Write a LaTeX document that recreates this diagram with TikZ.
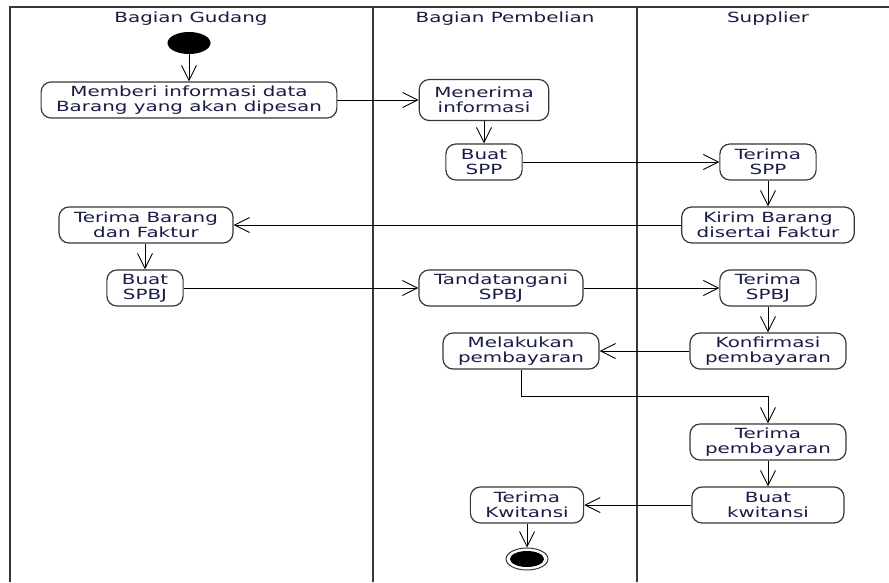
\documentclass[tikz,border=0pt]{standalone}
\usepackage{fontspec}
\setmainfont{DejaVu Sans}[FakeStretch=1.42]
\usepackage{tikz}
\usetikzlibrary{arrows.meta, shapes.geometric}
\definecolor{schrift}{RGB}{25,28,70}
\definecolor{linie}{RGB}{55,55,55}

\begin{document}
\begin{tikzpicture}[aktivitas/.style={draw=linie, line width=1.2pt, rounded corners=10pt, align=center, inner xsep=15pt, inner ysep=3pt, minimum height=36pt, text=schrift},
				lane/.style={draw=linie, line width=2pt},
				alur/.style={->, draw=black, line width=0.9pt},
				x=1pt, y=-1pt, >={Straight Barb[length=15pt,width=15pt]},   %Pfeilspitzen
				font=\fontsize{14}{15}\selectfont]
				\useasboundingbox (0,0) rectangle (889,582);
				% Swimlanes
				\draw[lane] (10,582) -- (10,7) -- (889,7);
				\draw[lane] (373,7) -- (373,582);
				\draw[lane] (637,7) -- (637,582);
				\node[text=schrift] (gudang) at (191,19) {Bagian Gudang};
				\node[text=schrift] (pembelian) at (505,19) {Bagian Pembelian};
				\node[text=schrift] (supplier) at (768,19) {Supplier};
				% Start und Ende
				\node[ellipse, fill=black, minimum width=43pt, minimum height=22pt, inner sep=0pt] (mulai) at (189,43) {};
				\node[ellipse, draw=linie, line width=1pt, minimum width=42pt, minimum height=22pt, inner sep=0pt] (akhir) at (527,559) {};
				\fill (akhir.center) ellipse (17 and 8);
				% Aktivitaeten
				\node[aktivitas] (memberi) at (189,100) {Memberi informasi data\\Barang yang akan dipesan};
				\node[aktivitas, minimum height=41pt] (menerima) at (484,100) {Menerima\\informasi};
				\node[aktivitas] (buatspp) at (484,162) {Buat\\SPP};
				\node[aktivitas] (terimaspp) at (768,162) {Terima\\SPP};
				\node[aktivitas] (kirim) at (768,225) {Kirim Barang\\disertai Faktur};
				\node[aktivitas] (terimabarang) at (146,225) {Terima Barang\\dan Faktur};
				\node[aktivitas] (buatspbj) at (145,288) {Buat\\SPBJ};
				\node[aktivitas] (tandatangani) at (501,288) {Tandatangani\\SPBJ};
				\node[aktivitas] (terimaspbj) at (768,288) {Terima\\SPBJ};
				\node[aktivitas] (konfirmasi) at (768,351) {Konfirmasi\\pembayaran};
				\node[aktivitas] (melakukan) at (521,351) {Melakukan\\pembayaran};
				\node[aktivitas] (terimabayar) at (768,442) {Terima\\pembayaran};
				\node[aktivitas, minimum width=152pt] (kwitansi) at (768,505) {Buat\\kwitansi};
				\node[aktivitas] (terimakw) at (527,505) {Terima\\Kwitansi};
				% Alur
				\draw[alur] (mulai) -- (memberi);
				\draw[alur] (memberi) -- (menerima);
				\draw[alur] (menerima) -- (buatspp);
				\draw[alur] (buatspp) -- (terimaspp);
				\draw[alur] (terimaspp) -- (kirim);
				\draw[alur] (kirim) -- (terimabarang);
				\draw[alur] (terimabarang.south -| buatspbj) -- (buatspbj);
				\draw[alur] (buatspbj) -- (tandatangani);
				\draw[alur] (tandatangani) -- (terimaspbj);
				\draw[alur] (terimaspbj) -- (konfirmasi);
				\draw[alur] (konfirmasi) -- (melakukan);
				\draw[alur] (melakukan.south) -- ++(0,27) -| (terimabayar.north);
				\draw[alur] (terimabayar) -- (kwitansi);
				\draw[alur] (kwitansi) -- (terimakw);
				\draw[alur] (terimakw) -- (akhir);
			\end{tikzpicture}
\end{document}
